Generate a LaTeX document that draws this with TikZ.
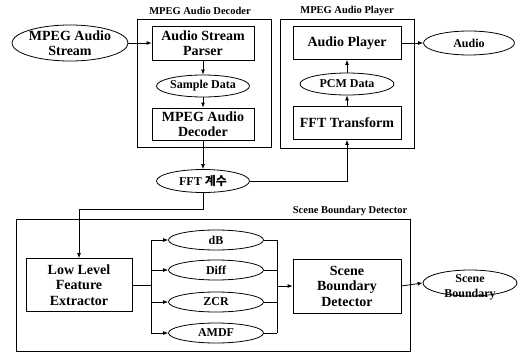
\documentclass[tikz,border=0pt]{standalone}
\usepackage{fontspec}
\setmainfont{Liberation Serif}
\newfontfamily\kr{Noto Sans CJK KR}
\usetikzlibrary{shapes.geometric,arrows.meta,calc}
\tikzset{
  big/.style={font=\bfseries\fontsize{14}{15.5}\selectfont},
  mid/.style={font=\bfseries\fontsize{12}{15}\selectfont},
  ttl/.style={font=\bfseries\fontsize{10.5}{12}\selectfont, inner sep=0pt},
  rbox/.style={draw, rectangle, line width=0.8pt, inner sep=0pt, align=center},
  ell/.style={draw, ellipse, line width=0.8pt, inner sep=0pt, align=center},
  outer/.style={draw, rectangle, line width=0.8pt, inner sep=0pt},
  arr/.style={-{Latex[length=5pt,width=4pt]}, line width=0.8pt},
  ln/.style={line width=0.8pt}
}
\begin{document}
\begin{tikzpicture}[x=1pt,y=-1pt]
\useasboundingbox (0,0) rectangle (518,353);
% outer boxes
\node[outer, minimum width=134pt, minimum height=128pt] (dec) at (204,83) {};
\node[ttl] (dect) at (200,11) {MPEG Audio Decoder};
\node[outer, minimum width=134pt, minimum height=129pt] (ply) at (347,83.5) {};
\node[ttl] (plyt) at (347,11) {MPEG Audio Player};
\node[outer, minimum width=394pt, minimum height=132pt] (sbdo) at (213,285) {};
\node[ttl] (sbdt) at (350,211) {Scene Boundary Detector};
% decoder part
\node[ell, big, minimum width=116pt, minimum height=36pt] (mas) at (70,43) {MPEG Audio\\Stream};
\node[rbox, big, minimum width=102pt, minimum height=34pt] (asp) at (203,43) {Audio Stream\\Parser};
\node[ell, mid, minimum width=93pt, minimum height=22pt] (sd) at (203,86) {Sample Data};
\node[rbox, big, minimum width=102pt, minimum height=32pt] (mad) at (203,124) {MPEG Audio\\Decoder};
\node[ell, mid, minimum width=93pt, minimum height=23pt] (fft) at (203,181) {FFT {\kr 계수}};
% player part
\node[rbox, big, minimum width=108pt, minimum height=33pt] (ap) at (347,43) {Audio Player};
\node[ell, mid, minimum width=94pt, minimum height=22pt] (pcm) at (347,84) {PCM Data};
\node[rbox, big, minimum width=108pt, minimum height=33pt] (fftt) at (347,123) {FFT Transform};
\node[ell, mid, minimum width=91pt, minimum height=24pt] (aud) at (469,43) {Audio};
% scene boundary part
\node[rbox, big, minimum width=106pt, minimum height=53pt] (lfe) at (79,285) {Low Level\\Feature\\Extractor};
\node[ell, mid, minimum width=95pt, minimum height=20pt] (db) at (216,240) {dB};
\node[ell, mid, minimum width=95pt, minimum height=20pt] (diff) at (216,270) {Diff};
\node[ell, mid, minimum width=95pt, minimum height=20pt] (zcr) at (216,302) {ZCR};
\node[ell, mid, minimum width=95pt, minimum height=20pt] (amdf) at (216,333) {AMDF};
\node[rbox, big, minimum width=108pt, minimum height=54pt] (sbd) at (347,286) {Scene\\Boundary\\Detector};
\node[ell, minimum width=94pt, minimum height=26pt] (sb) at (470,283) {};
\node[mid, align=center, inner sep=0pt] (sbtxt) at (470,287) {Scene\\Boundary};
\coordinate (j) at (151,285);
\coordinate (c) at (277,286);
% connectors
\draw[arr] (mas.east) -- (asp.west);
\draw[arr] (asp.south) -- (sd.north);
\draw[arr] (sd.south) -- (mad.north);
\draw[arr] (mad.south) -- (fft.north);
\draw[arr] (fft.east) -| (fftt.south);
\draw[arr] (fftt.north) -- (pcm.south);
\draw[arr] (pcm.north) -- (ap.south);
\draw[arr] (ap.east) -- (aud.west);
\draw[arr] (fft.south) -- ++(0,16.5) -| (lfe.north);
\draw[ln] (lfe.east) -- (j);
\draw[ln] (j |- db) -- (j |- amdf);
\foreach \e in {db,diff,zcr,amdf}{
  \draw[arr] (j |- \e.west) -- (\e.west);
  \draw[ln] (\e.east) -- (\e.east -| c);
}
\draw[ln] (c |- db) -- (c |- amdf);
\draw[arr] (c) -- (sbd.west);
\draw[arr] (sbd.east) -- (sb.west);
\end{tikzpicture}
\end{document}
